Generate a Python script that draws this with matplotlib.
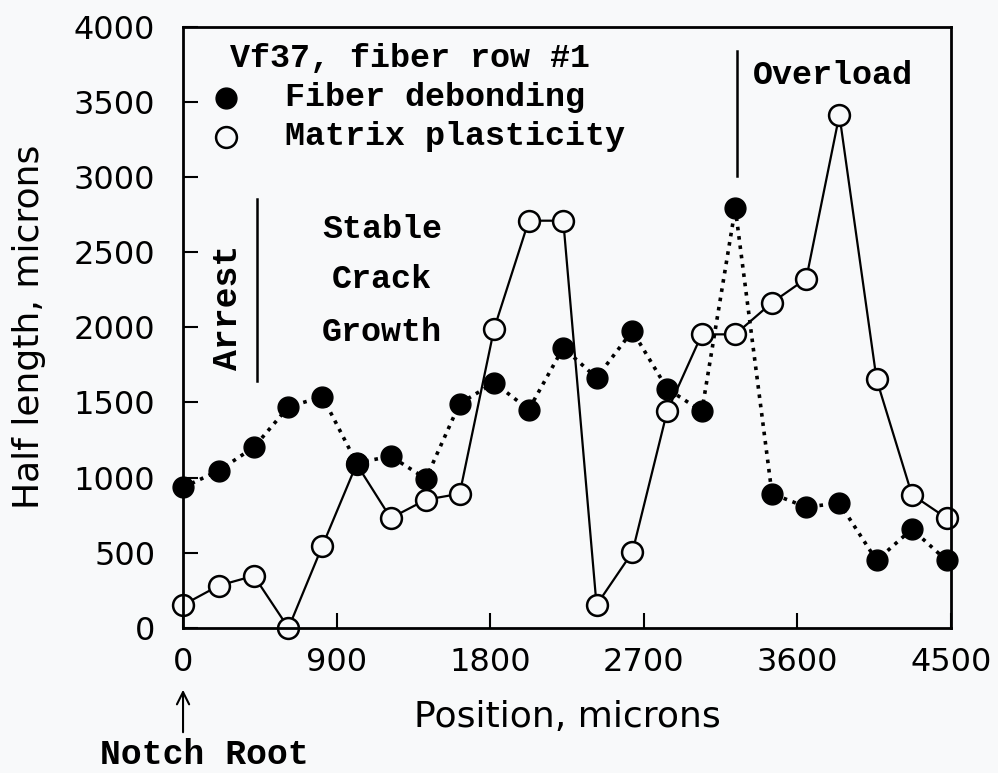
import matplotlib
matplotlib.use("Agg")
import matplotlib.pyplot as plt

# positions along the crack (microns)
position = [0, 210, 415, 618, 817, 1017, 1217, 1423, 1621, 1823, 2026, 2228,
            2423, 2633, 2837, 3040, 3236, 3451, 3652, 3846, 4064, 4271, 4474]
# half lengths (microns)
fiber_debonding = [935, 1047, 1202, 1471, 1538, 1098, 1142, 993, 1493, 1631, 1453, 1864,
                   1664, 1976, 1591, 1442, 2791, 893, 804, 831, 449, 658, 449]
matrix_plasticity = [153, 282, 347, 0, 547, 1090, 731, 853, 893, 1991, 2709, 2709,
                     153, 504, 1442, 1953, 1953, 2164, 2324, 3413, 1653, 887, 731]

x_ticks = [0, 900, 1800, 2700, 3600, 4500]
y_ticks = [0, 500, 1000, 1500, 2000, 2500, 3000, 3500, 4000]

bg = "#f8f9fa"
mono = ["Liberation Mono", "DejaVu Sans Mono"]

fig = plt.figure(figsize=(9.98, 7.73), dpi=100, facecolor=bg)
ax = fig.add_axes([0.1834, 0.1876, 0.7695, 0.778])
ax.set_facecolor(bg)

# dotted line for fiber debonding (behind everything)
ax.plot(position, fiber_debonding, color="k", lw=2.6,
        linestyle=(0, (1, 1.6)), zorder=2, clip_on=False)
# matrix plasticity: solid line with open circles
ax.plot(position, matrix_plasticity, "-o", color="k", lw=1.6,
        markersize=15, markerfacecolor=bg, markeredgewidth=1.8,
        zorder=3, clip_on=False)
# filled markers on top
ax.plot(position, fiber_debonding, "o", color="k", markersize=15,
        zorder=4, clip_on=False)

ax.set_xlim(0, 4500)
ax.set_ylim(0, 4000)
ax.set_xticks(x_ticks)
ax.set_yticks(y_ticks)
ax.tick_params(direction="in", length=11, width=1.5, labelsize=23)
ax.tick_params(axis="y", pad=20)
ax.tick_params(axis="x", pad=14)
for s in ax.spines.values():
    s.set_linewidth(2)
    s.set_zorder(5)

ax.set_xlabel("Position, microns", fontsize=26, va="center")
ax.xaxis.set_label_coords(0.5, -0.148)
ax.set_ylabel("Half length, microns", fontsize=26, va="center")
ax.yaxis.set_label_coords(-0.2005, 0.5)

# legend written as text
ax.text(275, 3787, "Vf37, fiber row #1", family=mono, weight="bold",
        fontsize=24, va="center")
ax.plot([252], [3527], "o", color="k", markersize=15, clip_on=False)
ax.plot([252], [3267], "o", color="k", markersize=15, markerfacecolor=bg,
        markeredgewidth=1.8, clip_on=False)
ax.text(598, 3527, "Fiber debonding", family=mono, weight="bold",
        fontsize=24, va="center")
ax.text(598, 3267, "Matrix plasticity", family=mono, weight="bold",
        fontsize=24, va="center")

# regions
ax.plot([434, 434], [1640, 2853], color="k", lw=1.8)
ax.text(258, 2133, "Arrest", family=mono, weight="bold", fontsize=25,
        rotation=90, ha="center", va="center")
for label, yy in zip(["Stable", "Crack", "Growth"], [2653, 2320, 1967]):
    ax.text(1166, yy, label, family=mono, weight="bold", fontsize=24,
            ha="center", va="center")
ax.plot([3246, 3246], [3007, 3840], color="k", lw=1.8)
ax.text(3340, 3673, "Overload", family=mono, weight="bold", fontsize=24,
        va="center")

# notch root arrow
ax.annotate("", xy=(0, 86), xytext=(0, 38),
            xycoords=("data", "figure pixels"),
            textcoords=("data", "figure pixels"),
            arrowprops=dict(arrowstyle="->", lw=1.5, color="k",
                            mutation_scale=22))
fig.text(204 / 998, 1 - 755 / 773, "Notch Root", family=mono, weight="bold",
         fontsize=25, ha="center", va="center")

fig.savefig("out.png", dpi=100, facecolor=bg)
